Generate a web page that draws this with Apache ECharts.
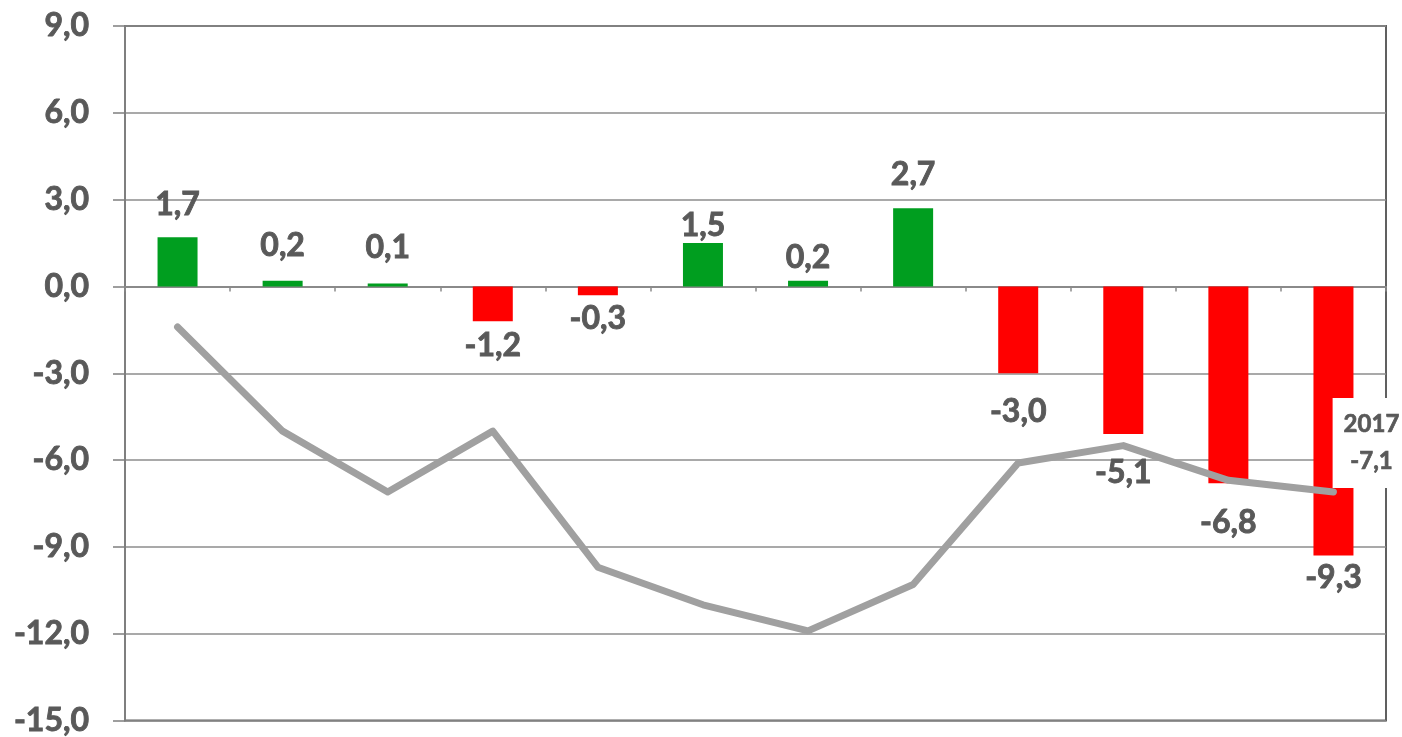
<!DOCTYPE html>
<html>
<head>
<meta charset="utf-8">
<script src="https://cdn.jsdelivr.net/npm/echarts@6/dist/echarts.min.js"></script>
<style>
html,body{margin:0;padding:0;background:#fff;}
#chart{width:1402px;height:737px;}
</style>
</head>
<body>
<div id="chart"></div>
<script>
// ---- data ----
const categories = ['2006','2007','2008','2009','2010','2011','2012','2013','2014','2015','2016','2017'];
const barValues = [1.7, 0.2, 0.1, -1.2, -0.3, 1.5, 0.2, 2.7, -3.0, -5.1, -6.8, -9.3];
const lineValues = [-1.4, -5.0, -7.1, -5.0, -9.7, -11.0, -11.9, -10.3, -6.1, -5.5, -6.7, -7.1];
const yTicks = [-15, -12, -9, -6, -3, 0, 3, 6, 9];

// ---- styling (not data) ----
const labelGap = [17, 19, 20, 9, 8, 1, 7, 18, 22, 23, 23, 6];
const fmt = v => v.toFixed(1).replace('.', ',');
const FONT = 'Lato';
const TXT = '#595959';
const heavy = {textBorderColor: TXT, textBorderWidth: 0.9};

const chart = echarts.init(document.getElementById('chart'));
chart.setOption({
  animation: false,
  backgroundColor: '#fff',
  grid: {left: 125, right: 16, top: 26, bottom: 14, show: true, borderColor: '#606060', borderWidth: 2, backgroundColor: 'transparent'},
  xAxis: {
    type: 'category',
    data: categories,
    axisLine: {onZero: true, lineStyle: {color: '#8a8a8a', width: 2}},
    axisTick: {show: true, length: 5, inside: false, lineStyle: {color: '#8a8a8a', width: 1.5}},
    axisLabel: {show: false},
    splitLine: {show: false}
  },
  yAxis: {
    type: 'value',
    min: yTicks[0],
    max: yTicks[yTicks.length - 1],
    interval: 3,
    axisLine: {show: true, onZero: false, lineStyle: {color: '#7f7f7f', width: 2}},
    axisTick: {show: true, length: 12, lineStyle: {color: '#7f7f7f', width: 1.5}},
    axisLabel: Object.assign({fontFamily: FONT, fontWeight: 'bold', fontSize: 32, color: TXT, margin: 36, formatter: v => fmt(v)}, heavy),
    splitLine: {show: true, lineStyle: {color: '#8c8c8c', width: 1.5}}
  },
  series: [
    {
      type: 'bar',
      barWidth: 40,
      z: 2,
      data: barValues.map((v, i) => ({
        value: v,
        itemStyle: {color: v >= 0 ? '#009e1f' : '#ff0000'},
        label: Object.assign({
          show: true,
          position: v >= 0 ? 'top' : 'bottom',
          distance: labelGap[i],
          formatter: p => fmt(p.value),
          fontFamily: FONT, fontWeight: 'bold', fontSize: 32, color: TXT
        }, heavy)
      }))
    },
    {
      type: 'line',
      z: 3,
      symbol: 'circle',
      symbolSize: 0,
      showSymbol: true,
      lineStyle: {color: '#a0a0a0', width: 7, cap: 'round', join: 'round'},
      itemStyle: {color: '#a0a0a0'},
      data: lineValues.map((v, i) => ({
        value: v,
        label: i === lineValues.length - 1 ? {
          show: true,
          position: 'top',
          distance: 4,
          offset: [38, 0],
          formatter: categories[i] + '\n' + fmt(v),
          backgroundColor: '#fff',
          padding: [8, 11, 8, 11],
          lineHeight: 37,
          fontFamily: FONT, fontWeight: 'bold', fontSize: 24, color: TXT,
          textBorderColor: TXT, textBorderWidth: 0.7
        } : {show: false}
      }))
    }
  ]
});
</script>
</body>
</html>
